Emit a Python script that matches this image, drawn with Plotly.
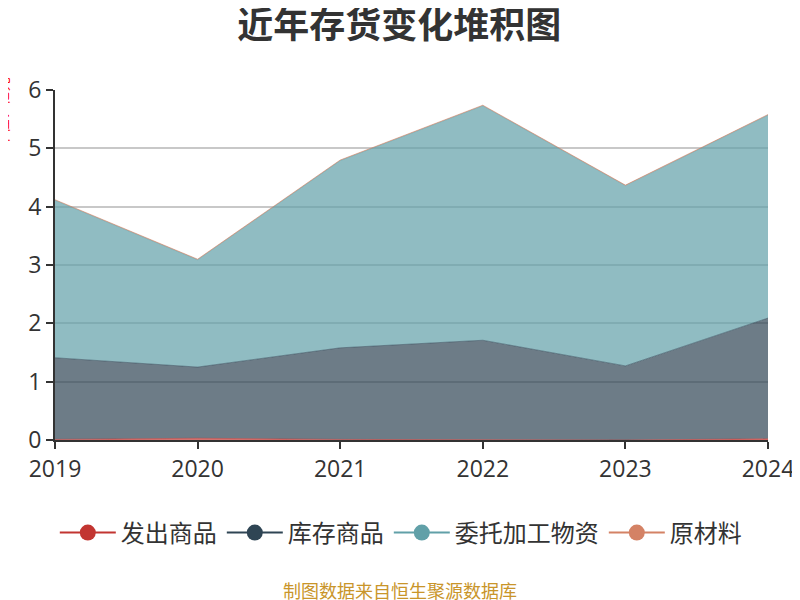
import plotly.graph_objects as go

YEARS = ["2019", "2020", "2021", "2022", "2023", "2024"]

# 亿元
FACHU = [0.01, 0.03, 0.01, 0.0, 0.0, 0.02]
KUCUN = [1.40, 1.22, 1.57, 1.71, 1.27, 2.07]
WEITUO = [2.70, 1.84, 3.21, 4.02, 3.09, 3.48]
YUANCAILIAO = [0.01, 0.01, 0.01, 0.01, 0.01, 0.01]

SERIES = [
    ("发出商品", FACHU, "#c23531", "rgba(194,53,49,0.7)"),
    ("库存商品", KUCUN, "#2f4554", "rgba(47,69,84,0.7)"),
    ("委托加工物资", WEITUO, "#61a0a8", "rgba(97,160,168,0.7)"),
    ("原材料", YUANCAILIAO, "#d48265", "rgba(212,130,101,0.7)"),
]

FONT = "Noto Sans CJK SC, Microsoft YaHei, sans-serif"
NUM_FONT = "Open Sans, Noto Sans CJK SC, sans-serif"

# page has an 8px body margin, so the figure is a bit smaller
W, H = 792, 592

fig = go.Figure()

for name, values, color, fill in SERIES:
    fig.add_trace(
        go.Scatter(
            x=[int(y) for y in YEARS],
            y=values,
            name=name,
            mode="lines",
            stackgroup="one",
            line=dict(color=color, width=0.5),
            fillcolor=fill,
            showlegend=False,
            hoverinfo="x+y+name",
        )
    )

# legend entries: line + circle like the original
for name, values, color, fill in SERIES:
    fig.add_trace(
        go.Scatter(
            x=[None],
            y=[None],
            name=name,
            mode="lines+markers",
            line=dict(color=color, width=2),
            marker=dict(color=color, size=22),
        )
    )

fig.update_layout(
    width=W,
    height=H,
    paper_bgcolor="white",
    plot_bgcolor="white",
    font=dict(family=FONT, color="#333"),
    title=dict(
        text="<b>近年存货变化堆积图</b>",
        x=0.494,
        xanchor="center",
        y=1 - 17 / H,
        yanchor="middle",
        font=dict(size=36, color="#333", family=FONT),
    ),
    margin=dict(l=47, r=32, t=82, b=160, autoexpand=False),
    legend=dict(
        orientation="h",
        traceorder="normal",
        x=0.485,
        xanchor="center",
        y=-93 / 350,
        yanchor="middle",
        font=dict(size=24, color="#333", family=FONT),
        itemwidth=56,
    ),
    showlegend=True,
)

fig.update_xaxes(
    range=[2019, 2024],
    tickvals=[int(y) for y in YEARS],
    ticktext=YEARS,
    showgrid=False,
    showline=True,
    linecolor="#333",
    linewidth=2,
    ticks="outside",
    ticklen=7,
    tickwidth=2,
    tickcolor="#333",
    tickfont=dict(size=23, color="#333", family=NUM_FONT),
    zeroline=False,
    automargin=False,
)

fig.update_yaxes(
    range=[0, 6],
    dtick=1,
    showgrid=True,
    gridcolor="#c8c8c8",
    gridwidth=1.5,
    showline=True,
    linecolor="#333",
    linewidth=2,
    ticks="outside",
    ticklen=7,
    tickwidth=2,
    tickcolor="#333",
    tickfont=dict(size=23, color="#333", family=NUM_FONT),
    zeroline=False,
    automargin=False,
)

fig.add_annotation(
    text="单位：亿元",
    xref="paper",
    yref="paper",
    x=-0.075,
    y=0.935,
    xanchor="center",
    yanchor="middle",
    textangle=-90,
    showarrow=False,
    font=dict(size=14, color="red", family=FONT),
)

fig.add_annotation(
    text="制图数据来自恒生聚源数据库",
    xref="paper",
    yref="paper",
    x=0.484,
    y=-150 / 350,
    xanchor="center",
    yanchor="middle",
    showarrow=False,
    font=dict(size=18, color="#c9952a", family=FONT),
)

fig.write_html("out.html")
